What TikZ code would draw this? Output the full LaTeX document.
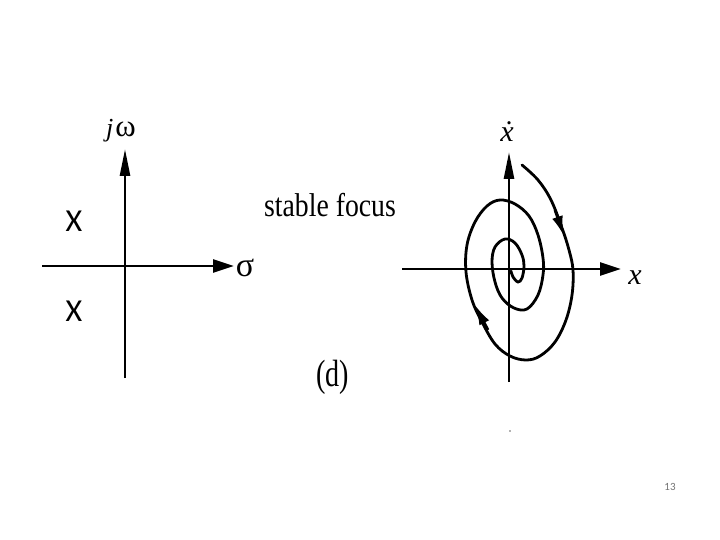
\documentclass[tikz,border=0pt]{standalone}
\usepackage{fontspec}
\setmainfont{Liberation Serif}
\newfontfamily\calib{Carlito}
\usetikzlibrary{arrows.meta}
\begin{document}
\begin{tikzpicture}[x=1pt,y=-1pt,
  axis/.style={line width=2.6pt},
  vtip/.style={-{Triangle[length=27pt,width=10pt]}},
  htip/.style={-{Triangle[length=21pt,width=13pt]}},
  traj/.style={line width=2.8pt, line cap=round},
  mid/.style={-{Latex[length=20pt,width=11pt]}, line width=2.8pt},
  lbl/.style={inner sep=0pt}]
\useasboundingbox (0,0) rectangle (720,540);
\fill[white] (0,0) rectangle (720,540);

% left: s-plane
\coordinate (lvb) at (125,378);
\coordinate (lvt) at (125,149);
\coordinate (lhl) at (42,266);
\coordinate (lhr) at (234,266);
\draw[axis,vtip] (lvb) -- (lvt);
\draw[axis,htip] (lhl) -- (lhr);
\node[lbl, anchor=base west] (jw) at (106,137) {\fontsize{26}{28}\selectfont\textit{j}\hspace{2pt}{\fontsize{31}{32}\selectfont ω}};
\node[lbl] (sigma) at (245,268) {\fontsize{34}{36}\selectfont σ};
\node[lbl] (p1) at (74,221) {\calib\fontsize{32}{34}\selectfont X};
\node[lbl] (p2) at (74,311) {\calib\fontsize{32}{34}\selectfont X};

% middle texts
\node[lbl, anchor=base west, xscale=0.84] (title) at (264,217) {\fontsize{33}{36}\selectfont stable focus};
\node[lbl, anchor=base west, xscale=0.74] (sub) at (316,386) {\fontsize{38}{40}\selectfont (d)};

% right: phase plane
\coordinate (rvb) at (509,382);
\coordinate (rvt) at (509,152);
\coordinate (rhl) at (402,269);
\coordinate (rhr) at (621,269);
\draw[axis,vtip] (rvb) -- (rvt);
\draw[axis,htip] (rhl) -- (rhr);
\node[lbl] (xdot) at (507,132) {\fontsize{30}{32}\selectfont\textit{\.{x}}};
\node[lbl] (xlab) at (635,278) {\fontsize{30}{32}\selectfont\textit{x}};

\draw[traj] plot[smooth, tension=0.6] coordinates {
 (522,165) (538,180) (551,200) (562,228) (569,250) (573,270) (572,295)
 (566,320) (555,342) (540,356) (526,360) (510,356) (495,344) (482,322)
 (472,300) (466,272) (467,245) (475,222) (487,206) (500,200) (515,204)
 (529,216) (538,235) (543,258) (543,275) (538,295) (527,309) (514,308)
 (502,298) (495,282) (492,262) (495,247) (505,239) (515,243) (522,255)
 (524,266) (522,278) (518,282) (513,277) (511,271)};
\coordinate (a1s) at (555,210);
\coordinate (a1e) at (564,236);
\coordinate (a2s) at (488,330);
\coordinate (a2e) at (475,305);
\draw[mid] (a1s) -- (a1e);
\draw[mid] (a2s) -- (a2e);

\fill[black!60] (510,431) circle (0.8);
\node[lbl, text=black!55] (pg) at (670,487) {\calib\fontsize{11}{12}\selectfont 13};
\end{tikzpicture}
\end{document}
